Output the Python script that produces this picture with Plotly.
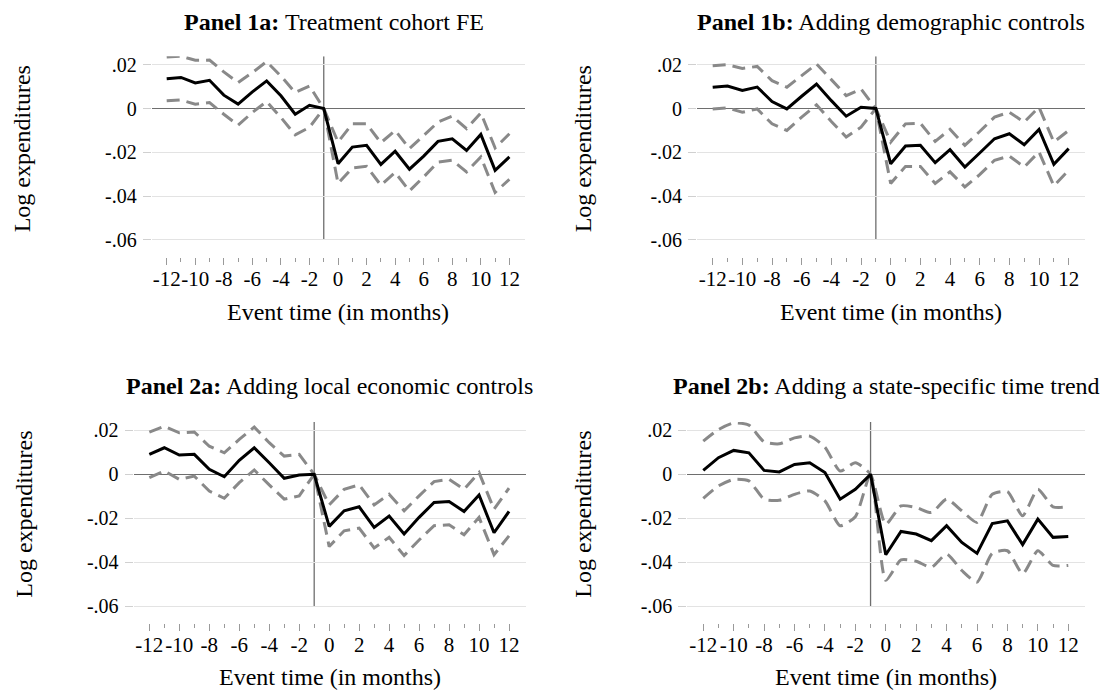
import plotly.graph_objects as go

# ---------------- data ----------------
event_time = list(range(-12, 13))
x_tick_vals = list(range(-12, 13, 2))
x_tick_text = ["-12", "-10", "-8", "-6", "-4", "-2", "0", "2", "4", "6", "8", "10", "12"]
x_minor_vals = list(range(-11, 12, 2))
y_tick_vals = [-0.06, -0.04, -0.02, 0.0, 0.02]
y_tick_text = ["-.06", "-.04", "-.02", "0", ".02"]

p1a_est = [0.0136, 0.0142, 0.0117, 0.0129, 0.0061, 0.0020, 0.0076, 0.0126, 0.0058, -0.0026, 0.0015, 0.0,
           -0.0252, -0.0176, -0.0168, -0.0255, -0.0195, -0.0277, -0.0217, -0.0150, -0.0138, -0.0191, -0.0118, -0.0282, -0.0221]
p1a_hi = [0.0235, 0.0239, 0.0220, 0.0221, 0.0167, 0.0118, 0.0164, 0.0214, 0.0148, 0.0073, 0.0103, 0.0,
          -0.0153, -0.0070, -0.0070, -0.0156, -0.0100, -0.0183, -0.0123, -0.0062, -0.0035, -0.0092, -0.0020, -0.0180, -0.0115]
p1a_lo = [0.0035, 0.0039, 0.0020, 0.0027, -0.0026, -0.0076, -0.0018, 0.0032, -0.0041, -0.0120, -0.0086, 0.0,
          -0.0342, -0.0271, -0.0264, -0.0350, -0.0292, -0.0376, -0.0312, -0.0244, -0.0236, -0.0289, -0.0221, -0.0383, -0.0323]

p1b_est = [0.0097, 0.0103, 0.0082, 0.0098, 0.0032, -0.0002, 0.0056, 0.0112, 0.0036, -0.0035, 0.0006, 0.0,
           -0.0252, -0.0171, -0.0168, -0.0247, -0.0188, -0.0267, -0.0203, -0.0138, -0.0115, -0.0165, -0.0095, -0.0255, -0.0183]
p1b_hi = [0.0195, 0.0200, 0.0183, 0.0192, 0.0127, 0.0097, 0.0150, 0.0203, 0.0132, 0.0059, 0.0089, 0.0,
          -0.0153, -0.0070, -0.0067, -0.0150, -0.0095, -0.0168, -0.0105, -0.0039, -0.0017, -0.0062, 0.0006, -0.0153, -0.0100]
p1b_lo = [-0.0002, 0.0003, -0.0017, -0.0002, -0.0070, -0.0100, -0.0039, 0.0017, -0.0059, -0.0130, -0.0085, 0.0,
          -0.0342, -0.0264, -0.0264, -0.0342, -0.0289, -0.0358, -0.0302, -0.0236, -0.0217, -0.0267, -0.0198, -0.0353, -0.0282]

p2a_est = [0.0091, 0.0121, 0.0088, 0.0091, 0.0023, -0.0011, 0.0064, 0.0121, 0.0053, -0.0018, -0.0003, 0.0,
           -0.0237, -0.0166, -0.0148, -0.0242, -0.0190, -0.0272, -0.0196, -0.0128, -0.0124, -0.0169, -0.0094, -0.0266, -0.0169]
p2a_hi = [0.0192, 0.0219, 0.0189, 0.0193, 0.0128, 0.0098, 0.0159, 0.0215, 0.0144, 0.0083, 0.0091, 0.0,
          -0.0139, -0.0068, -0.0048, -0.0139, -0.0091, -0.0166, -0.0098, -0.0033, -0.0023, -0.0068, 0.0008, -0.0159, -0.0063]
p2a_lo = [-0.0015, 0.0015, -0.0023, -0.0008, -0.0076, -0.0109, -0.0038, 0.0020, -0.0048, -0.0113, -0.0098, 0.0,
          -0.0329, -0.0257, -0.0245, -0.0335, -0.0287, -0.0370, -0.0299, -0.0234, -0.0230, -0.0275, -0.0196, -0.0366, -0.0280]

p2b_est = [0.0018, 0.0076, 0.0109, 0.0098, 0.0018, 0.0011, 0.0045, 0.0053, 0.0008, -0.0113, -0.0068, 0.0,
           -0.0366, -0.0260, -0.0272, -0.0302, -0.0234, -0.0310, -0.0360, -0.0224, -0.0212, -0.0320, -0.0204, -0.0287, -0.0283]
p2b_hi = [0.0151, 0.0204, 0.0234, 0.0224, 0.0148, 0.0139, 0.0166, 0.0174, 0.0124, 0.0015, 0.0053, 0.0,
          -0.0227, -0.0144, -0.0151, -0.0174, -0.0113, -0.0166, -0.0219, -0.0091, -0.0079, -0.0189, -0.0068, -0.0148, -0.0148]
p2b_lo = [-0.0109, -0.0053, -0.0023, -0.0030, -0.0113, -0.0118, -0.0091, -0.0076, -0.0121, -0.0234, -0.0193, 0.0,
          -0.0483, -0.0390, -0.0396, -0.0423, -0.0363, -0.0438, -0.0491, -0.0360, -0.0348, -0.0453, -0.0348, -0.0415, -0.0415]

titles = ["<b>Panel 1a:</b> Treatment cohort FE",
          "<b>Panel 1b:</b> Adding demographic controls",
          "<b>Panel 2a:</b> Adding local economic controls",
          "<b>Panel 2b:</b> Adding a state-specific time trend"]
x_title = "Event time (in months)"
y_title = "Log expenditures"

# ---------------- layout geometry (pixels) ----------------
W, H = 1118, 693
FONT = "Liberation Serif, Times New Roman, serif"
XR = [-13.05, 13.1]
YR = [-0.0678, 0.0238]

panels = [
    dict(est=p1a_est, hi=p1a_hi, lo=p1a_lo, x0=151.7, x1=525.1, y0=53.6, y1=255.2,
         title=titles[0], tx=334, ty=19, ytx=22, yty=147, xty=310, spline=False),
    dict(est=p1b_est, hi=p1b_hi, lo=p1b_lo, x0=697.1, x1=1085.0, y0=53.6, y1=255.2,
         title=titles[1], tx=891, ty=19, ytx=583, yty=147, xty=310, spline=False),
    dict(est=p2a_est, hi=p2a_hi, lo=p2a_lo, x0=133.6, x1=525.5, y0=420.9, y1=622.9,
         title=titles[2], tx=329.5, ty=385, ytx=24, yty=514, xty=677, spline=False),
    dict(est=p2b_est, hi=p2b_hi, lo=p2b_lo, x0=687.3, x1=1085.0, y0=420.9, y1=622.9,
         title=titles[3], tx=886, ty=385, ytx=583, yty=514, xty=677, spline=True),
]

fig = go.Figure()
annotations = []
shapes = []
layout_axes = {}

for i, p in enumerate(panels):
    n = "" if i == 0 else str(i + 1)
    xa, ya = "x" + n, "y" + n
    ci_shape = "spline" if p["spline"] else "linear"
    for key in ("hi", "lo"):
        fig.add_trace(go.Scatter(
            x=event_time, y=p[key], mode="lines", xaxis=xa, yaxis=ya,
            line=dict(color="#898989", width=3, dash="13px,7px", shape=ci_shape, smoothing=0.6),
            showlegend=False, hoverinfo="skip"))
    fig.add_trace(go.Scatter(
        x=event_time, y=p["est"], mode="lines", xaxis=xa, yaxis=ya,
        line=dict(color="black", width=3), showlegend=False))

    layout_axes["xaxis" + n] = dict(
        domain=[p["x0"] / W, p["x1"] / W], anchor=ya, range=XR,
        tickmode="array", tickvals=x_tick_vals, ticktext=x_tick_text, tickangle=0,
        ticks="outside", ticklen=7, tickwidth=1, tickcolor="#9a9a9a",
        minor=dict(tickmode="array", tickvals=x_minor_vals, ticks="outside",
                   ticklen=4, tickwidth=1, tickcolor="#9a9a9a"),
        showgrid=False, zeroline=False, showline=False,
        tickfont=dict(family=FONT, size=21, color="black"),
        ticklabelstandoff=-4, fixedrange=True)
    layout_axes["yaxis" + n] = dict(
        domain=[1 - p["y1"] / H, 1 - p["y0"] / H], anchor=xa, range=YR,
        tickmode="array", tickvals=y_tick_vals, ticktext=y_tick_text,
        ticks="outside", ticklen=8, tickwidth=1, tickcolor="#d0d0d0",
        showgrid=True, gridcolor="#e3e3e3", gridwidth=1,
        zeroline=True, zerolinecolor="#6e6e6e", zerolinewidth=1.3,
        showline=False,
        tickfont=dict(family=FONT, size=20, color="black"),
        ticklabelstandoff=2, fixedrange=True)

    shapes.append(dict(type="line", xref=xa, yref=ya, x0=-1, x1=-1, y0=-0.06, y1=YR[1],
                       line=dict(color="#6e6e6e", width=1.3), layer="below"))

    annotations.append(dict(text=p["title"], x=p["tx"] / W, y=1 - p["ty"] / H,
                            xref="paper", yref="paper", showarrow=False,
                            xanchor="center", yanchor="middle",
                            font=dict(family=FONT, size=24, color="black")))
    annotations.append(dict(text=x_title, x=(p["x0"] + p["x1"]) / 2 / W,
                            y=1 - p["xty"] / H,
                            xref="paper", yref="paper", showarrow=False,
                            xanchor="center", yanchor="middle",
                            font=dict(family=FONT, size=24, color="black")))
    annotations.append(dict(text=y_title, x=p["ytx"] / W,
                            y=1 - p["yty"] / H,
                            xref="paper", yref="paper", showarrow=False,
                            textangle=-90, xanchor="center", yanchor="middle",
                            font=dict(family=FONT, size=24, color="black")))

fig.update_layout(
    width=W, height=H, margin=dict(l=0, r=0, t=0, b=0),
    paper_bgcolor="white", plot_bgcolor="white",
    font=dict(family=FONT, color="black"),
    annotations=annotations, shapes=shapes, showlegend=False, hovermode=False,
    **layout_axes)

fig.write_html("out.html", config={"displayModeBar": False, "staticPlot": True},
               post_script="document.body.style.margin='0px';")
